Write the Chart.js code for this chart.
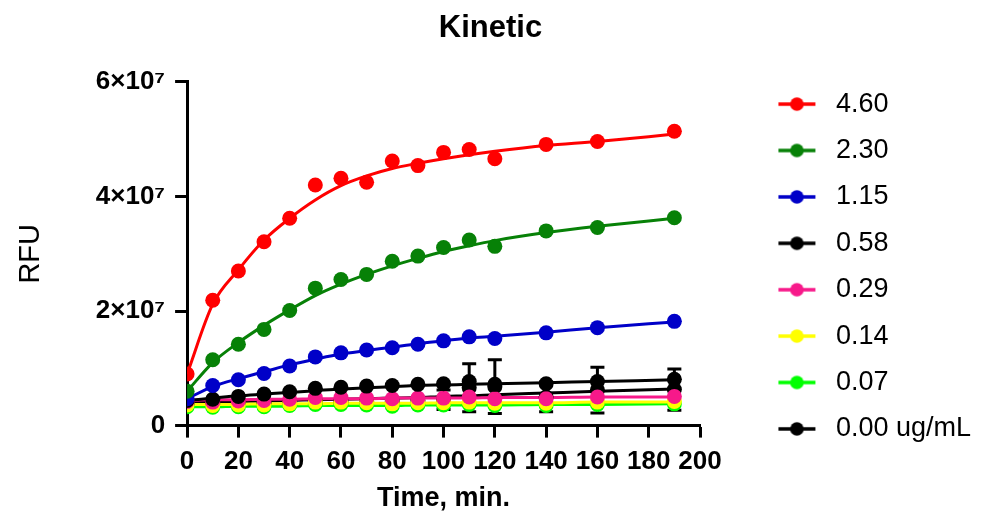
<!DOCTYPE html>
<html>
<head>
<meta charset="utf-8">
<script src="https://cdn.jsdelivr.net/npm/chart.js@4.4.1/dist/chart.umd.min.js"></script>
<style>
  html, body { margin: 0; padding: 0; background: #fff; }
</style>
</head>
<body>
<canvas id="kinetic" width="981" height="514"></canvas>
<script>
'use strict';

// sampling times, min
const times = [0, 10, 20, 30, 40, 50, 60, 70, 80, 90, 100, 110, 120, 140, 160, 190];

// concentrations (legend order) and their colours
const doses = ['4.60', '2.30', '1.15', '0.58', '0.29', '0.14', '0.07', '0.00 ug/mL'];
const colors = ['#ff0000', '#078107', '#0000c8', '#000000', '#f7198a', '#ffff00', '#00ff00', '#000000'];

// mean RFU, in units of 10^7
const rfu460 = [0.90, 2.19, 2.70, 3.21, 3.62, 4.20, 4.32, 4.25, 4.62, 4.54, 4.77, 4.82, 4.66, 4.91, 4.96, 5.14];
const rfu230 = [0.60, 1.15, 1.42, 1.68, 2.01, 2.40, 2.55, 2.64, 2.87, 2.96, 3.11, 3.24, 3.13, 3.40, 3.46, 3.63];
const rfu115 = [0.47, 0.70, 0.80, 0.91, 1.04, 1.20, 1.27, 1.32, 1.36, 1.42, 1.48, 1.55, 1.52, 1.62, 1.71, 1.82];
const rfu058 = [0.44, 0.46, 0.51, 0.55, 0.59, 0.65, 0.67, 0.69, 0.70, 0.72, 0.73, 0.77, 0.72, 0.73, 0.77, 0.81];
const rfu029 = [0.42, 0.41, 0.43, 0.44, 0.46, 0.49, 0.49, 0.48, 0.47, 0.48, 0.48, 0.50, 0.47, 0.47, 0.50, 0.51];
const rfu014 = [0.36, 0.35, 0.36, 0.36, 0.38, 0.41, 0.41, 0.40, 0.38, 0.40, 0.40, 0.41, 0.39, 0.39, 0.41, 0.42];
const rfu007 = [0.33, 0.32, 0.33, 0.33, 0.35, 0.37, 0.37, 0.36, 0.34, 0.36, 0.36, 0.37, 0.35, 0.35, 0.37, 0.38];
const rfu000 = [0.38, 0.38, 0.40, 0.40, 0.41, 0.42, 0.42, 0.42, 0.43, 0.44, 0.45, 0.66, 0.68, 0.50, 0.62, 0.63];

// SD of the blank wells (only ones big enough to show)
const sd000 = [0, 0, 0, 0, 0, 0, 0, 0, 0, 0, 0.17, 0.42, 0.47, 0.26, 0.40, 0.36];

// fitted curves at the same times
const fit460 = [0.90, 2.12, 2.72, 3.24, 3.62, 3.94, 4.19, 4.36, 4.49, 4.58, 4.66, 4.73, 4.79, 4.89, 4.96, 5.09];
const fit230 = [0.60, 1.10, 1.45, 1.75, 2.02, 2.27, 2.47, 2.64, 2.79, 2.92, 3.04, 3.14, 3.23, 3.37, 3.48, 3.62];
const fit115 = [0.47, 0.68, 0.82, 0.94, 1.06, 1.16, 1.25, 1.31, 1.37, 1.43, 1.48, 1.53, 1.56, 1.63, 1.71, 1.81];
const fit058 = [0.44, 0.48, 0.52, 0.55, 0.58, 0.61, 0.64, 0.66, 0.68, 0.70, 0.71, 0.72, 0.73, 0.75, 0.77, 0.80];
const fit029 = [0.44, 0.45, 0.45, 0.46, 0.46, 0.47, 0.47, 0.47, 0.48, 0.48, 0.48, 0.48, 0.49, 0.49, 0.50, 0.50];
const fit014 = [0.37, 0.37, 0.37, 0.38, 0.38, 0.38, 0.39, 0.39, 0.39, 0.39, 0.40, 0.40, 0.40, 0.40, 0.41, 0.41];
const fit007 = [0.33, 0.33, 0.34, 0.34, 0.34, 0.35, 0.35, 0.35, 0.35, 0.36, 0.36, 0.36, 0.36, 0.37, 0.37, 0.38];
const fit000 = [0.40, 0.41, 0.42, 0.43, 0.44, 0.45, 0.46, 0.47, 0.48, 0.49, 0.51, 0.52, 0.54, 0.57, 0.60, 0.64];

const yTickLabels = ['0', '2×10⁷', '4×10⁷', '6×10⁷'];

const means = [rfu460, rfu230, rfu115, rfu058, rfu029, rfu014, rfu007, rfu000];
const fits = [fit460, fit230, fit115, fit058, fit029, fit014, fit007, fit000];

const FONT = "'Liberation Sans', Arial, Helvetica, sans-serif";
Chart.defaults.font.family = FONT;
Chart.defaults.color = '#000';

function pts(vals) {
  return times.map((t, i) => ({x: t, y: vals[i]}));
}

// legend symbol: short line with a dot; blank space on the left pushes it right
function legendSymbol(color) {
  const c = document.createElement('canvas');
  c.width = 103;
  c.height = 16;
  const g = c.getContext('2d');
  g.strokeStyle = color;
  g.lineWidth = 3.5;
  g.beginPath();
  g.moveTo(59, 8);
  g.lineTo(96, 8);
  g.stroke();
  g.fillStyle = color;
  g.beginPath();
  g.arc(77.5, 8, 6.8, 0, Math.PI * 2);
  g.fill();
  return c;
}

const datasets = [];
doses.forEach((d, i) => {
  datasets.push({
    label: d,
    data: pts(means[i]),
    showLine: false,
    pointRadius: 7.5,
    pointHoverRadius: 7.5,
    pointBorderWidth: 0,
    pointBackgroundColor: colors[i],
    borderColor: colors[i],
    order: 0
  });
});
doses.forEach((d, i) => {
  datasets.push({
    label: d + ' fit',
    data: pts(fits[i]),
    showLine: true,
    borderColor: colors[i],
    borderWidth: 3,
    pointRadius: 0,
    cubicInterpolationMode: 'monotone',
    order: 1
  });
});

const errorBars = {
  id: 'errorBars',
  beforeDatasetsDraw(chart) {
    const {ctx, scales: {x, y}} = chart;
    ctx.save();
    ctx.strokeStyle = '#000';
    ctx.lineWidth = 3;
    sd000.forEach((sd, i) => {
      if (!sd) return;
      const px = x.getPixelForValue(times[i]);
      const top = y.getPixelForValue(rfu000[i] + sd);
      const bot = y.getPixelForValue(rfu000[i] - sd);
      ctx.beginPath();
      ctx.moveTo(px, top); ctx.lineTo(px, bot);
      ctx.moveTo(px - 7, top); ctx.lineTo(px + 7, top);
      ctx.moveTo(px - 7, bot); ctx.lineTo(px + 7, bot);
      ctx.stroke();
    });
    ctx.restore();
  }
};

new Chart(document.getElementById('kinetic').getContext('2d'), {
  type: 'scatter',
  data: {datasets: datasets},
  plugins: [errorBars],
  options: {
    responsive: false,
    animation: false,
    layout: {padding: {top: 19, right: 0, bottom: 0, left: 0}},
    plugins: {
      tooltip: {enabled: false},
      title: {
        display: true,
        text: 'Kinetic',
        color: '#000',
        font: {size: 31, weight: 'bold', lineHeight: 0.58},
        padding: {top: 0, bottom: 45}
      },
      legend: {
        position: 'right',
        maxWidth: 400,
        labels: {
          usePointStyle: true,
          pointStyleWidth: 103,
          padding: 19.4,
          color: '#000',
          font: {size: 27},
          generateLabels: (chart) => doses.map((d, i) => ({
            text: d,
            datasetIndex: i,
            pointStyle: legendSymbol(colors[i]),
            fillStyle: colors[i],
            strokeStyle: colors[i],
            lineWidth: 0,
            fontColor: '#000',
            hidden: false
          }))
        }
      }
    },
    scales: {
      x: {
        type: 'linear',
        min: 0,
        max: 200,
        ticks: {stepSize: 20, padding: 9, color: '#000', font: {size: 26, weight: 'bold'}},
        grid: {drawOnChartArea: false, tickLength: 12, tickWidth: 3, tickColor: '#000'},
        border: {color: '#000', width: 3},
        title: {display: true, text: 'Time, min.', color: '#000', font: {size: 27, weight: 'bold', lineHeight: 0.6}, padding: {top: 4, bottom: 7}}
      },
      y: {
        min: 0,
        max: 6,
        ticks: {
          stepSize: 2,
          padding: 10,
          color: '#000',
          font: {size: 26, weight: 'bold'},
          callback: (v) => yTickLabels[Math.round(v / 2)]
        },
        grid: {drawOnChartArea: false, tickLength: 12, tickWidth: 3, tickColor: '#000'},
        border: {color: '#000', width: 3},
        title: {display: true, text: 'RFU', color: '#000', font: {size: 29}, padding: {top: 14, bottom: 37}}
      }
    }
  }
});
</script>
</body>
</html>
